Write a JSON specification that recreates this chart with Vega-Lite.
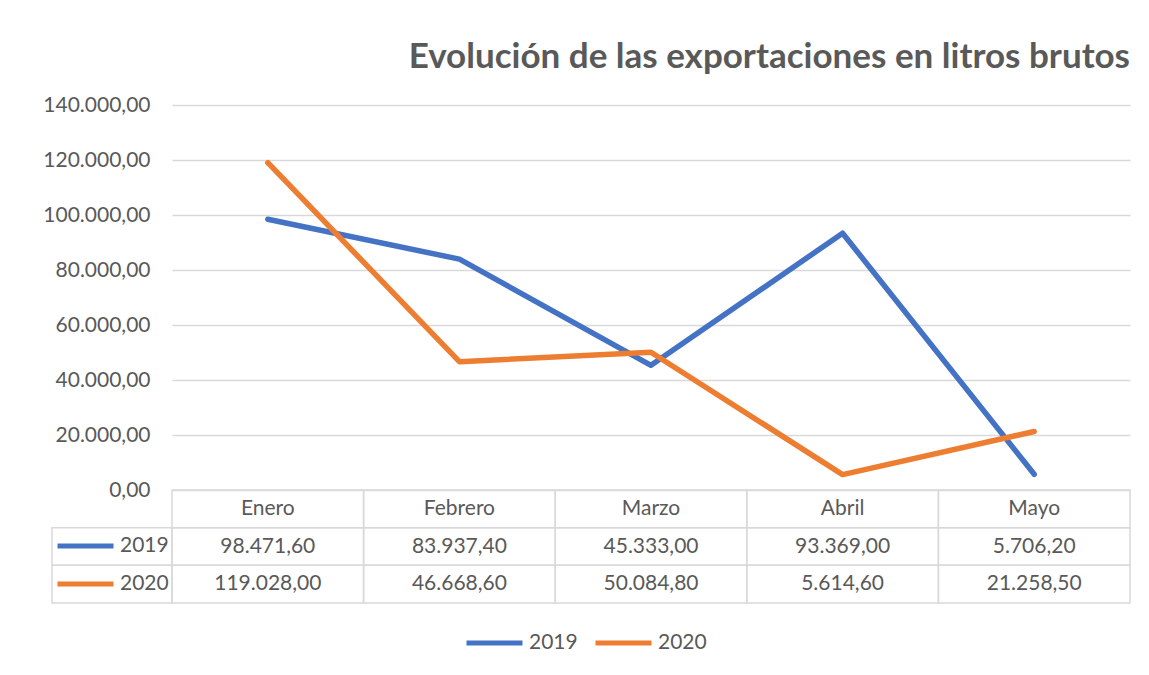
{
  "$schema": "https://vega.github.io/schema/vega-lite/v6.json",
  "background": "white",
  "padding": {"left": 42, "top": 40, "right": 5, "bottom": 5},
  "datasets": {
    "exportaciones": [
      {"mes": "Enero", "serie": "2019", "valor": 98471.6},
      {"mes": "Febrero", "serie": "2019", "valor": 83937.4},
      {"mes": "Marzo", "serie": "2019", "valor": 45333.0},
      {"mes": "Abril", "serie": "2019", "valor": 93369.0},
      {"mes": "Mayo", "serie": "2019", "valor": 5706.2},
      {"mes": "Enero", "serie": "2020", "valor": 119028.0},
      {"mes": "Febrero", "serie": "2020", "valor": 46668.6},
      {"mes": "Marzo", "serie": "2020", "valor": 50084.8},
      {"mes": "Abril", "serie": "2020", "valor": 5614.6},
      {"mes": "Mayo", "serie": "2020", "valor": 21258.5}
    ]
  },
  "columns": 2,
  "spacing": 0,
  "bounds": "flush",
  "resolve": {"legend": {"color": "independent"}},
  "concat": [
    {
      "width": 120,
      "height": 385,
      "data": {"values": []},
      "mark": "point"
    },
    {
      "width": 958,
      "height": 385,
      "title": {
        "text": "Evolución de las exportaciones en litros brutos",
        "anchor": "end",
        "font": "Lato",
        "fontSize": 35,
        "fontWeight": "bold",
        "color": "#595959",
        "baseline": "alphabetic",
        "offset": -9
      },
      "data": {"name": "exportaciones"},
      "mark": {"type": "line", "strokeWidth": 5.5, "strokeCap": "round", "strokeJoin": "round"},
      "encoding": {
        "x": {
          "field": "mes",
          "type": "nominal",
          "sort": ["Enero", "Febrero", "Marzo", "Abril", "Mayo"],
          "scale": {"type": "point", "padding": 0.5},
          "axis": null
        },
        "y": {
          "field": "valor",
          "type": "quantitative",
          "scale": {"domain": [0, 140000]},
          "axis": {
            "title": null,
            "values": [0, 20000, 40000, 60000, 80000, 100000, 120000, 140000],
            "format": ",.2f",
            "ticks": false,
            "domain": false,
            "labelPadding": 22,
            "labelFont": "Lato",
            "labelFontSize": 21,
            "labelColor": "#595959",
            "gridColor": "#D9D9D9",
            "gridWidth": 1.5
          }
        },
        "color": {
          "field": "serie",
          "type": "nominal",
          "scale": {"domain": ["2019", "2020"], "range": ["#4472C4", "#ED7D31"]},
          "legend": {
            "title": null,
            "orient": "none",
            "direction": "horizontal",
            "legendX": 292,
            "legendY": 523,
            "clipHeight": 30,
            "symbolType": "stroke",
            "symbolSize": 3136,
            "symbolStrokeWidth": 5,
            "columnPadding": 15,
            "labelOffset": 4,
            "labelFont": "Lato",
            "labelFontSize": 21,
            "labelColor": "#595959"
          }
        }
      }
    },
    {
      "width": 120,
      "height": 113,
      "data": {"name": "exportaciones"},
      "transform": [{"filter": "datum.mes == 'Enero'"}],
      "layer": [
        {
          "mark": {"type": "rect", "fillOpacity": 0, "stroke": "#D9D9D9", "strokeWidth": 1.5},
          "encoding": {
            "y": {
              "field": "serie",
              "type": "nominal",
              "scale": {"domain": ["Mes", "2019", "2020"], "paddingInner": 0, "paddingOuter": 0},
              "axis": null
            }
          }
        },
        {
          "mark": {"type": "rule", "opacity": 0, "strokeWidth": 5},
          "encoding": {
            "y": {"field": "serie", "type": "nominal", "axis": null},
            "color": {
              "field": "serie",
              "type": "nominal",
              "scale": {"domain": ["2019", "2020"], "range": ["#4472C4", "#ED7D31"]},
              "legend": {
                "title": null,
                "orient": "none",
                "direction": "vertical",
                "legendX": 3,
                "legendY": 37,
                "clipHeight": 38,
                "rowPadding": 0,
                "symbolType": "stroke",
                "symbolSize": 3136,
                "symbolStrokeWidth": 5,
                "symbolOpacity": 1,
                "labelOffset": 4,
                "labelFont": "Lato",
                "labelFontSize": 21,
                "labelColor": "#595959"
              }
            }
          }
        }
      ]
    },
    {
      "width": 958,
      "height": 113,
      "data": {"name": "exportaciones"},
      "encoding": {
        "x": {
          "field": "mes",
          "type": "nominal",
          "sort": ["Enero", "Febrero", "Marzo", "Abril", "Mayo"],
          "scale": {"type": "band", "paddingInner": 0, "paddingOuter": 0},
          "axis": null
        }
      },
      "layer": [
        {
          "mark": {"type": "rect", "fillOpacity": 0, "stroke": "#D9D9D9", "strokeWidth": 1.5},
          "encoding": {
            "y": {
              "field": "serie",
              "type": "nominal",
              "scale": {"domain": ["Mes", "2019", "2020"], "paddingInner": 0, "paddingOuter": 0},
              "axis": null
            }
          }
        },
        {
          "mark": {"type": "text", "font": "Lato", "fontSize": 21, "color": "#595959"},
          "encoding": {
            "y": {"field": "serie", "type": "nominal", "axis": null},
            "text": {"field": "valor", "type": "quantitative", "format": ",.2f"}
          }
        },
        {
          "transform": [{"filter": "datum.serie == '2019'"}],
          "mark": {"type": "rect", "fillOpacity": 0, "stroke": "#D9D9D9", "strokeWidth": 1.5},
          "encoding": {
            "y": {"datum": "Mes", "type": "nominal", "axis": null}
          }
        },
        {
          "transform": [{"filter": "datum.serie == '2019'"}],
          "mark": {"type": "text", "font": "Lato", "fontSize": 21, "color": "#595959"},
          "encoding": {
            "y": {"datum": "Mes", "type": "nominal", "axis": null},
            "text": {"field": "mes", "type": "nominal"}
          }
        }
      ]
    }
  ],
  "config": {
    "view": {"stroke": null},
    "font": "Lato",
    "locale": {
      "number": {"decimal": ",", "thousands": ".", "grouping": [3], "currency": ["", " €"]}
    }
  }
}
